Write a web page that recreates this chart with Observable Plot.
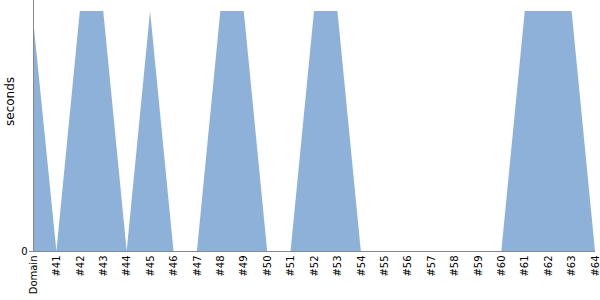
<!DOCTYPE html>
<html>
<head>
<meta charset="utf-8">
<script src="https://cdn.jsdelivr.net/npm/d3@7"></script>
<script src="https://cdn.jsdelivr.net/npm/@observablehq/plot@0.6"></script>
<style>
  html, body { margin: 0; padding: 0; background: #fff; }
</style>
</head>
<body>
<div id="chart"></div>
<script>
const categories = ["Domain","#41","#42","#43","#44","#45","#46","#47","#48","#49","#50","#51","#52","#53","#54","#55","#56","#57","#58","#59","#60","#61","#62","#63","#64"];
const seconds = [0.97,0,1,1,0,1,0,0,1,1,0,0,1,1,0,0,0,0,0,0,0,1,1,1,0];
const yTicks = [0];

const data = categories.map((c, i) => ({cat: c, v: seconds[i]}));

const chart = Plot.plot({
  width: 600,
  height: 300,
  marginLeft: 33,
  marginRight: 5,
  marginTop: 0,
  marginBottom: 49,
  style: {fontFamily: "DejaVu Sans, sans-serif", fontSize: "10px", background: "#fff"},
  x: {type: "point", domain: categories, padding: 0, round: false, label: null},
  y: {domain: [0, 1.046], label: null},
  marks: [
    Plot.areaY(data, {x: "cat", y: "v", fill: "#8eb1da", curve: "linear"}),
    Plot.ruleY([0], {stroke: "#888"}),
    Plot.ruleX([categories[0]], {stroke: "#888"}),
    Plot.axisY({ticks: yTicks, tickFormat: d => String(d), tickSize: 4, stroke: "#888", label: null, fontSize: 10, tickPadding: 2}),
    Plot.axisX({tickSize: 0, tickRotate: -90, tickPadding: 4, label: null, fontSize: 10}),
    Plot.text(["seconds"], {frameAnchor: "left", dx: -23, rotate: -90, fontSize: 12, fill: "#000"})
  ]
});
document.getElementById("chart").appendChild(chart);
</script>
</body>
</html>
